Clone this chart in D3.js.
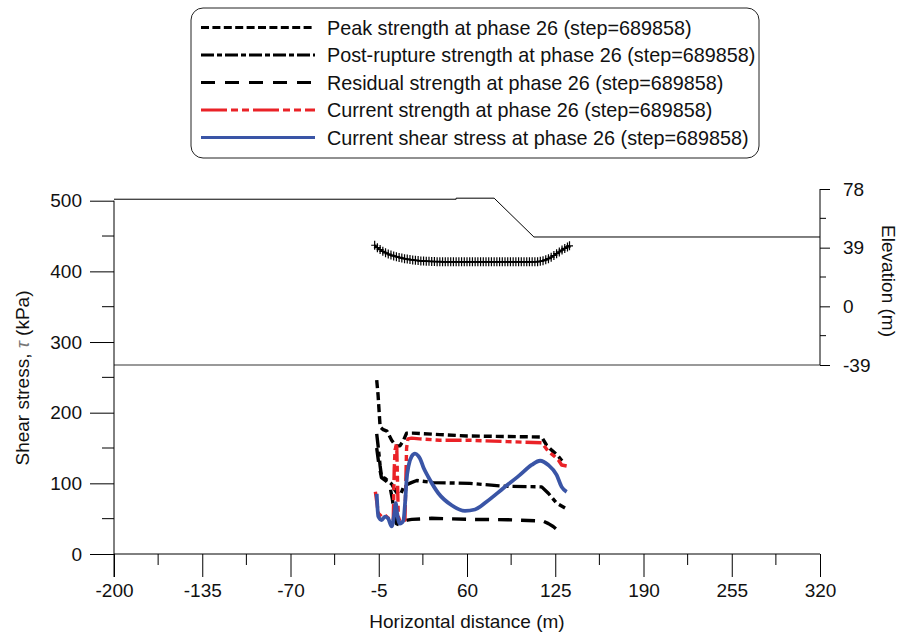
<!DOCTYPE html>
<html>
<head>
<meta charset="utf-8">
<script src="https://cdn.jsdelivr.net/npm/d3@7"></script>
<style>
  html, body { margin: 0; padding: 0; background: #fff; }
  svg { display: block; font-family: Arial, "Liberation Sans", Helvetica, sans-serif; }
</style>
</head>
<body>
<svg id="chart" width="898" height="632"></svg>
<script>
// Axis ticks
const distanceTicks = [-200, -135, -70, -5, 60, 125, 190, 255, 320];
const stressTicks = [0, 100, 200, 300, 400, 500];
const elevationTicks = [-39, 0, 39, 78];

// Strength and stress profiles along the slip surface (distance m, kPa)
const peakX = [-6.5, -5.5, -4.5, -4, -1.7, 1, 4.5, 7.7, 10.6, 13, 15.5, 20, 40, 60, 80, 100, 115, 118.6, 122.3, 126, 130];
const peakV = [246, 225, 195, 180, 176, 174, 161, 153, 153, 160, 171, 171, 169, 167, 166.5, 166, 165.5, 154, 147, 141, 132];

const postX = [-6.5, -5.3, -4, -2.9, -0.4, 2, 4.5, 6.5, 8.2, 11, 13.1, 15.5, 19, 23, 35, 62, 87, 115, 119.9, 126, 132.2];
const postV = [170, 150, 125, 109, 107, 103, 99, 92, 87, 84, 94, 98, 101, 104, 101, 100, 96, 95, 86, 72, 65];

const resX = [-6.5, -5, -3, 0, 3, 5, 6.5, 8, 10.6, 13, 16, 19.3, 34, 62, 90, 116, 120, 123.5, 129.7];
const resV = [150, 128, 108, 104, 98, 78, 55, 43, 41, 45, 48, 49, 50.5, 49, 48.5, 46.5, 43, 39, 29];

const curX = [-7.5, -5.3, -3, -0.4, 2, 4.5, 5.7, 6.4, 7, 8.2, 9.4, 10.5, 11.8, 13.1, 14.3, 15.5, 16.5, 19.2, 25, 40, 62, 90, 115, 118, 119.9, 124, 127.3, 129.7, 133.4];
const curV = [88, 58, 53, 55, 50.5, 50, 48, 120, 147, 157, 53, 47, 46, 47, 48, 150, 163, 164, 163, 161, 161, 159, 157.5, 150, 145, 139, 133, 126, 124.5];

const shearX = [-6.5, -5.3, -2.9, -0.4, 2, 4.5, 6.3, 7.5, 8.5, 10.6, 13.1, 14.5, 15.5, 17, 19.2, 21.7, 24, 25.4, 28, 31.5, 38.9, 48.7, 58.5, 65.9, 74.4, 86.7, 99, 107.6, 113.8, 119.9, 126, 129.7, 133.4];
const shearV = [85, 53, 48, 53, 50, 39, 55, 72, 58, 43, 47, 75, 105, 125, 138, 142, 139, 135, 122, 109, 86, 69, 61, 63, 74, 93, 112, 126, 132, 126, 112, 95, 88];

// Slope geometry (distance m, elevation m)
const groundX = [-200, 52, 52, 80, 109.3, 320];
const groundElev = [71.2, 71.2, 71.9, 71.9, 46.1, 46.1];

// Slip surface slice points (distance m, elevation m)
const slipX = [-8, -6, -4, -2, 0, 2, 4, 6, 8, 10, 12, 14, 16, 18, 20, 22, 24, 26, 28, 30, 32, 34, 36, 38, 40,
  42, 44, 46, 48, 50, 52, 54, 56, 58, 60, 62, 64, 66, 68, 70, 72, 74, 76, 78, 80, 82, 84, 86, 88, 90,
  92, 94, 96, 98, 100, 102, 104, 106, 108, 110, 112, 114, 116, 118, 120, 122, 124, 126, 128, 130, 132, 134, 135.5];
const slipElev = [40.6, 39.0, 37.7, 36.6, 35.6, 34.8, 34.1, 33.5, 33.0, 32.5, 32.1, 31.7, 31.4, 31.1, 30.8, 30.6, 30.4, 30.2, 30.1, 30.0, 29.9, 29.8, 29.8, 29.7, 29.7,
  29.6, 29.6, 29.6, 29.6, 29.6, 29.6, 29.6, 29.6, 29.6, 29.6, 29.6, 29.6, 29.6, 29.6, 29.6, 29.6, 29.6, 29.6, 29.6, 29.6, 29.6, 29.6, 29.6, 29.6, 29.6,
  29.6, 29.6, 29.6, 29.6, 29.6, 29.6, 29.6, 29.6, 29.6, 29.6, 29.7, 29.9, 30.3, 30.9, 31.7, 32.7, 33.8, 35.0, 36.2, 37.4, 38.5, 39.5, 40.2];

const seriesNames = [
  "Peak strength at phase 26 (step=689858)",
  "Post-rupture strength at phase 26 (step=689858)",
  "Residual strength at phase 26 (step=689858)",
  "Current strength at phase 26 (step=689858)",
  "Current shear stress at phase 26 (step=689858)"
];

const BLACK = "#000";
const RED = "#ea2227";
const BLUE = "#3a55a6";

const series = [
  { name: seriesNames[0], xs: peakX, ys: peakV, color: BLACK, dash: "8,4", legendDash: "8,3.4", width: 3.4 },
  { name: seriesNames[1], xs: postX, ys: postV, color: BLACK, dash: "14,4,5,4", legendDash: "13,3,5,3", width: 3.4 },
  { name: seriesNames[2], xs: resX, ys: resV, color: BLACK, dash: "14,9", legendDash: "14,10", width: 3.4 },
  { name: seriesNames[3], xs: curX, ys: curV, color: RED, dash: "16,4,6,4,6,4", legendDash: "26,4,7,4,7,4", width: 3.4 },
  { name: seriesNames[4], xs: shearX, ys: shearV, color: BLUE, dash: null, legendDash: null, width: 3.8, smooth: true }
];

const svg = d3.select("#chart");
svg.append("rect").attr("width", 898).attr("height", 632).attr("fill", "#fff");

const left = 114, right = 820;
const x = d3.scaleLinear().domain([-200, 320]).range([left, right]);
const y = d3.scaleLinear().domain([0, 500]).range([554, 200.7]);
const elev = d3.scaleLinear().domain([-39, 78]).range([365, 189]);

const FS = 19;
const FONT = "Arial, 'Liberation Sans', sans-serif";
const fmt = d => String(d); // plain hyphen for negatives

// ---- Elevation section (upper panel) ----
svg.append("line")
  .attr("x1", left).attr("x2", right).attr("y1", elev(-39)).attr("y2", elev(-39))
  .attr("stroke", "#777").attr("stroke-width", 1.5);

const groundPts = groundX.map((d, i) => [d, groundElev[i]]);
svg.append("path")
  .attr("d", d3.line().x(d => x(d[0])).y(d => elev(d[1]))(groundPts))
  .attr("fill", "none").attr("stroke", "#000").attr("stroke-width", 1);

const slipPts = slipX.map((d, i) => [d, slipElev[i]]);
svg.append("path")
  .attr("d", d3.line().x(d => x(d[0])).y(d => elev(d[1])).curve(d3.curveMonotoneX)(slipPts))
  .attr("fill", "none").attr("stroke", "#000").attr("stroke-width", 1.8);
svg.append("g").selectAll("path.cross").data(slipPts).join("path")
  .attr("class", "cross")
  .attr("transform", d => `translate(${x(d[0])},${elev(d[1])})`)
  .attr("d", "M-3.5,0H3.5M0,-4.5V4.5")
  .attr("stroke", "#000").attr("stroke-width", 1.2).attr("fill", "none");

// Right elevation axis
const elevAxis = d3.axisRight(elev).tickValues(elevationTicks).tickSize(10).tickPadding(13).tickFormat(fmt);
const ga = svg.append("g").attr("transform", `translate(${right},0)`).call(elevAxis);
ga.select(".domain").remove();
ga.selectAll("text").attr("font-size", FS).attr("fill", "#111").attr("font-family", FONT);
ga.selectAll("line").attr("stroke", "#000");
const elevMinor = [-19.5, 19.5, 58.5];
svg.append("g").selectAll("line").data(elevMinor).join("line")
  .attr("x1", right).attr("x2", right + 6).attr("y1", d => elev(d)).attr("y2", d => elev(d)).attr("stroke", "#000");
svg.append("line").attr("x1", right).attr("x2", right).attr("y1", elev(78)).attr("y2", elev(-39)).attr("stroke", "#000");

svg.append("text")
  .attr("transform", `translate(888,281) rotate(90)`)
  .attr("text-anchor", "middle").attr("dominant-baseline", "central")
  .attr("font-size", FS).attr("fill", "#111").text("Elevation (m)");

// ---- Shear stress axes ----
const yAxis = d3.axisLeft(y).tickValues(stressTicks).tickSize(24).tickPadding(8).tickFormat(fmt);
const gy = svg.append("g").attr("transform", `translate(${left},0)`).call(yAxis);
gy.select(".domain").remove();
gy.selectAll("text").attr("font-size", FS).attr("fill", "#111").attr("font-family", FONT);
gy.selectAll("line").attr("stroke", "#000");
const stressMinor = [50, 150, 250, 350, 450];
svg.append("g").selectAll("line").data(stressMinor).join("line")
  .attr("x1", left - 12).attr("x2", left).attr("y1", d => y(d)).attr("y2", d => y(d)).attr("stroke", "#000");

const xAxis = d3.axisBottom(x).tickValues(distanceTicks).tickSize(23).tickPadding(7).tickFormat(fmt);
const gx = svg.append("g").attr("transform", `translate(0,${y(0)})`).call(xAxis);
gx.select(".domain").remove();
gx.selectAll("text").attr("font-size", FS).attr("fill", "#111").attr("font-family", FONT);
gx.selectAll("line").attr("stroke", "#000");
const distanceMinor = distanceTicks.slice(0, -1).map(d => d + 32.5);
svg.append("g").selectAll("line").data(distanceMinor).join("line")
  .attr("x1", d => x(d)).attr("x2", d => x(d)).attr("y1", y(0)).attr("y2", y(0) + 11).attr("stroke", "#000");

// axis lines
svg.append("line").attr("x1", left).attr("x2", right).attr("y1", y(0)).attr("y2", y(0)).attr("stroke", "#000");
svg.append("line").attr("x1", left).attr("x2", left).attr("y1", y(500)).attr("y2", y(0) + 23).attr("stroke", "#000");

svg.append("text")
  .attr("x", (left + right) / 2).attr("y", 621)
  .attr("text-anchor", "middle").attr("dominant-baseline", "central")
  .attr("font-size", FS).attr("fill", "#111").text("Horizontal distance (m)");

const yTitle = svg.append("text")
  .attr("transform", `translate(22,378) rotate(-90)`)
  .attr("text-anchor", "middle").attr("dominant-baseline", "central")
  .attr("font-size", FS).attr("fill", "#111");
yTitle.append("tspan").text("Shear stress, ");
yTitle.append("tspan").attr("font-style", "italic").attr("font-weight", 300).attr("fill", "#777").text("\u03C4");
yTitle.append("tspan").text(" (kPa)");

// ---- Curves ----
const gCurves = svg.append("g");
series.forEach(s => {
  const pts = s.xs.map((d, i) => [d, s.ys[i]]);
  const line = d3.line().x(d => x(d[0])).y(d => y(d[1]));
  if (s.smooth) line.curve(d3.curveMonotoneX);
  gCurves.append("path")
    .attr("d", line(pts))
    .attr("fill", "none")
    .attr("stroke", s.color)
    .attr("stroke-width", s.width)
    .attr("stroke-dasharray", s.dash)
    .attr("stroke-linejoin", "round");
});

// ---- Legend ----
const lg = svg.append("g");
lg.append("rect")
  .attr("x", 191).attr("y", 8).attr("width", 568).attr("height", 150).attr("rx", 12).attr("ry", 12)
  .attr("fill", "#fff").attr("stroke", "#222").attr("stroke-width", 1);
series.forEach((s, i) => {
  const ly = 27.5 + i * 27.5;
  lg.append("line")
    .attr("x1", 201).attr("x2", 315).attr("y1", ly).attr("y2", ly)
    .attr("stroke", s.color).attr("stroke-width", 3.2)
    .attr("stroke-dasharray", s.legendDash);
  lg.append("text")
    .attr("x", 327).attr("y", ly)
    .attr("dominant-baseline", "central")
    .attr("font-size", 19.8).attr("fill", "#111")
    .text(s.name);
});
</script>
</body>
</html>
